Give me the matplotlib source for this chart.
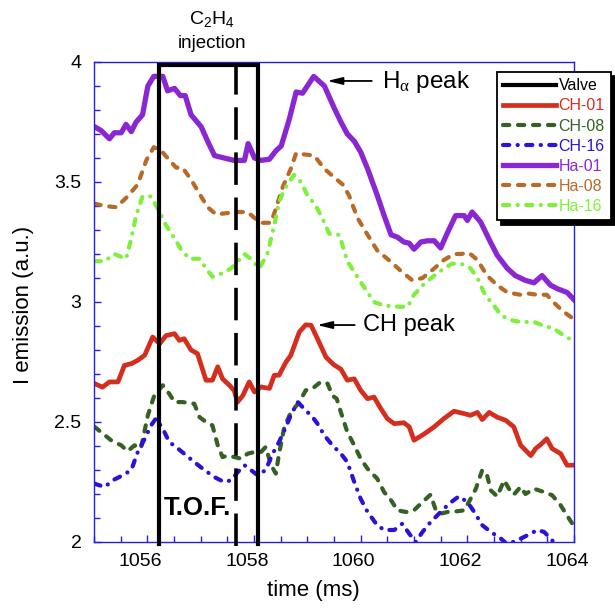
import matplotlib
matplotlib.use("Agg")
import matplotlib.pyplot as plt
import matplotlib.transforms as mtransforms
from matplotlib.ticker import MultipleLocator, FormatStrFormatter

plt.rcParams["font.family"] = ["Liberation Sans", "DejaVu Sans"]
plt.rcParams["mathtext.fontset"] = "custom"
plt.rcParams["mathtext.rm"] = "Liberation Sans"
plt.rcParams["mathtext.it"] = "Liberation Serif"
plt.rcParams["mathtext.bf"] = "Liberation Sans:bold"

# ---- data (time in ms, emission in a.u.) ----
ha01_t = [1055.01, 1055.13, 1055.29, 1055.38, 1055.51, 1055.60, 1055.70, 1055.79, 1055.91, 1056.01,
          1056.12, 1056.29, 1056.38, 1056.51, 1056.62, 1056.71, 1056.82, 1057.01, 1057.13, 1057.26,
          1057.44, 1057.63, 1057.82, 1057.89, 1058.01, 1058.13, 1058.29, 1058.41, 1058.51, 1058.66,
          1058.79, 1058.91, 1059.12, 1059.32, 1059.50, 1059.63, 1059.75, 1059.88, 1060.00, 1060.13,
          1060.31, 1060.44, 1060.57, 1060.69, 1060.81, 1060.91, 1061.00, 1061.13, 1061.25, 1061.38,
          1061.50, 1061.63, 1061.78, 1061.94, 1062.00, 1062.09, 1062.25, 1062.41, 1062.56, 1062.75,
          1062.90, 1063.09, 1063.25, 1063.40, 1063.56, 1063.69, 1063.87, 1064.00]
ha01_v = [3.73, 3.715, 3.68, 3.705, 3.705, 3.74, 3.71, 3.75, 3.78, 3.90,
          3.94, 3.94, 3.88, 3.89, 3.86, 3.86, 3.78, 3.73, 3.67, 3.61,
          3.60, 3.59, 3.59, 3.66, 3.60, 3.59, 3.595, 3.63, 3.65, 3.76,
          3.875, 3.87, 3.94, 3.90, 3.81, 3.75, 3.70, 3.67, 3.625, 3.555,
          3.445, 3.36, 3.28, 3.27, 3.25, 3.245, 3.22, 3.25, 3.255, 3.255,
          3.225, 3.29, 3.36, 3.36, 3.34, 3.375, 3.333, 3.26, 3.195, 3.14,
          3.11, 3.09, 3.08, 3.11, 3.07, 3.055, 3.04, 3.01]

ha08_t = [1055.01, 1055.20, 1055.42, 1055.63, 1055.82, 1055.98, 1056.12, 1056.26, 1056.38, 1056.54,
          1056.66, 1056.82, 1056.98, 1057.13, 1057.29, 1057.48, 1057.69, 1057.88, 1058.01, 1058.13,
          1058.32, 1058.41, 1058.54, 1058.69, 1058.79, 1058.94, 1059.13, 1059.32, 1059.50, 1059.66,
          1059.78, 1059.94, 1060.13, 1060.31, 1060.57, 1060.75, 1060.97, 1061.16, 1061.38, 1061.56,
          1061.75, 1061.88, 1062.03, 1062.19, 1062.37, 1062.56, 1062.75, 1063.00, 1063.16, 1063.31,
          1063.49, 1063.61, 1063.80, 1063.99]
ha08_v = [3.41, 3.40, 3.395, 3.44, 3.49, 3.59, 3.645, 3.63, 3.60, 3.56,
          3.56, 3.51, 3.45, 3.395, 3.365, 3.37, 3.375, 3.375, 3.35, 3.33,
          3.33, 3.39, 3.48, 3.555, 3.62, 3.615, 3.61, 3.555, 3.52, 3.49,
          3.445, 3.35, 3.28, 3.215, 3.167, 3.13, 3.09, 3.10, 3.14, 3.175,
          3.20, 3.20, 3.205, 3.175, 3.11, 3.07, 3.04, 3.03, 3.035, 3.03,
          3.03, 3.0, 2.96, 2.93]

ha16_t = [1055.01, 1055.20, 1055.38, 1055.60, 1055.70, 1055.79, 1055.91, 1056.07, 1056.23, 1056.35,
          1056.51, 1056.63, 1056.79, 1056.98, 1057.10, 1057.22, 1057.41, 1057.57, 1057.69, 1057.82,
          1057.94, 1058.10, 1058.25, 1058.38, 1058.47, 1058.57, 1058.75, 1058.88, 1059.00, 1059.16,
          1059.28, 1059.41, 1059.50, 1059.60, 1059.75, 1059.88, 1060.00, 1060.13, 1060.25, 1060.44,
          1060.75, 1060.88, 1061.00, 1061.19, 1061.38, 1061.56, 1061.72, 1061.88, 1062.06, 1062.19,
          1062.31, 1062.44, 1062.50, 1062.63, 1062.81, 1063.00, 1063.25, 1063.44, 1063.62, 1063.81,
          1063.97]
ha16_v = [3.17, 3.17, 3.20, 3.18, 3.265, 3.36, 3.44, 3.44, 3.375, 3.32,
          3.265, 3.22, 3.18, 3.18, 3.14, 3.105, 3.12, 3.14, 3.167, 3.20,
          3.18, 3.14, 3.20, 3.32, 3.417, 3.47, 3.53, 3.50, 3.445, 3.40,
          3.35, 3.285, 3.28, 3.28, 3.17, 3.125, 3.083, 3.04, 3.00, 2.985,
          2.98, 2.98, 3.03, 3.076, 3.11, 3.14, 3.16, 3.16, 3.14, 3.10,
          3.04, 3.00, 2.985, 2.945, 2.925, 2.917, 2.917, 2.90, 2.89, 2.86,
          2.84]

ch01_t = [1055.01, 1055.16, 1055.29, 1055.45, 1055.57, 1055.70, 1055.82, 1055.95, 1056.10, 1056.23,
          1056.35, 1056.51, 1056.60, 1056.69, 1056.82, 1056.94, 1057.10, 1057.22, 1057.32, 1057.41,
          1057.54, 1057.63, 1057.69, 1057.79, 1057.91, 1058.01, 1058.13, 1058.29, 1058.38, 1058.47,
          1058.60, 1058.69, 1058.85, 1058.97, 1059.07, 1059.19, 1059.35, 1059.50, 1059.63, 1059.75,
          1059.88, 1060.00, 1060.13, 1060.25, 1060.38, 1060.50, 1060.63, 1060.81, 1060.91, 1061.00,
          1061.19, 1061.38, 1061.56, 1061.75, 1061.94, 1062.06, 1062.19, 1062.28, 1062.41, 1062.56,
          1062.72, 1062.87, 1063.00, 1063.19, 1063.28, 1063.37, 1063.49, 1063.59, 1063.75, 1063.87,
          1064.00]
ch01_v = [2.66, 2.645, 2.667, 2.667, 2.736, 2.743, 2.757, 2.778, 2.854, 2.826,
          2.86, 2.868, 2.84, 2.847, 2.80, 2.785, 2.674, 2.674, 2.73, 2.68,
          2.653, 2.63, 2.583, 2.61, 2.667, 2.625, 2.646, 2.64, 2.695, 2.695,
          2.75, 2.778, 2.875, 2.905, 2.903, 2.847, 2.77, 2.738, 2.72, 2.674,
          2.68, 2.632, 2.597, 2.604, 2.555, 2.514, 2.493, 2.497, 2.48, 2.424,
          2.45, 2.48, 2.514, 2.545, 2.535, 2.528, 2.54, 2.51, 2.54, 2.52,
          2.507, 2.48, 2.403, 2.36, 2.389, 2.405, 2.43, 2.389, 2.368, 2.32,
          2.32]

ch08_t = [1055.01, 1055.13, 1055.32, 1055.51, 1055.63, 1055.76, 1055.88, 1056.01, 1056.13, 1056.29,
          1056.41, 1056.51, 1056.66, 1056.88, 1056.98, 1057.10, 1057.22, 1057.32, 1057.41, 1057.51,
          1057.63, 1057.76, 1057.88, 1058.01, 1058.13, 1058.22, 1058.32, 1058.41, 1058.47, 1058.57,
          1058.69, 1058.85, 1058.97, 1059.10, 1059.25, 1059.38, 1059.47, 1059.55, 1059.63, 1059.75,
          1059.88, 1060.00, 1060.13, 1060.31, 1060.44, 1060.57, 1060.69, 1060.85, 1061.00, 1061.16,
          1061.31, 1061.41, 1061.50, 1061.63, 1061.81, 1061.94, 1062.03, 1062.16, 1062.28, 1062.37,
          1062.44, 1062.56, 1062.69, 1062.78, 1062.87, 1063.00, 1063.09, 1063.25, 1063.44, 1063.59,
          1063.75, 1063.87, 1063.97]
ch08_v = [2.48, 2.458, 2.424, 2.403, 2.378, 2.403, 2.39, 2.528, 2.61, 2.653,
          2.618, 2.583, 2.583, 2.576, 2.52, 2.50, 2.486, 2.403, 2.354, 2.36,
          2.354, 2.347, 2.368, 2.375, 2.375, 2.396, 2.32, 2.285, 2.368, 2.48,
          2.54, 2.583, 2.632, 2.64, 2.667, 2.66, 2.61, 2.597, 2.54, 2.458,
          2.403, 2.347, 2.305, 2.264, 2.208, 2.174, 2.132, 2.125, 2.132, 2.167,
          2.197, 2.132, 2.118, 2.125, 2.128, 2.132, 2.167, 2.222, 2.30, 2.278,
          2.215, 2.19, 2.257, 2.222, 2.197, 2.23, 2.20, 2.222, 2.208, 2.195,
          2.153, 2.11, 2.076]

ch16_t = [1055.01, 1055.20, 1055.35, 1055.54, 1055.70, 1055.82, 1055.95, 1056.07, 1056.16, 1056.29,
          1056.41, 1056.57, 1056.69, 1056.88, 1057.07, 1057.26, 1057.44, 1057.57, 1057.69, 1057.82,
          1057.94, 1058.07, 1058.22, 1058.35, 1058.47, 1058.60, 1058.69, 1058.82, 1058.94, 1059.10,
          1059.19, 1059.32, 1059.47, 1059.63, 1059.75, 1059.88, 1060.00, 1060.13, 1060.31, 1060.44,
          1060.63, 1060.78, 1060.91, 1061.03, 1061.16, 1061.31, 1061.50, 1061.66, 1061.84, 1062.00,
          1062.13, 1062.28, 1062.44, 1062.63, 1062.75, 1063.00, 1063.19, 1063.31, 1063.44, 1063.56,
          1063.66, 1063.80]
ch16_v = [2.243, 2.229, 2.257, 2.278, 2.30, 2.375, 2.43, 2.486, 2.514, 2.472,
          2.417, 2.39, 2.368, 2.333, 2.30, 2.27, 2.25, 2.257, 2.29, 2.32,
          2.30, 2.278, 2.30, 2.368, 2.417, 2.48, 2.528, 2.583, 2.555, 2.52,
          2.493, 2.444, 2.403, 2.368, 2.333, 2.25, 2.18, 2.125, 2.07, 2.05,
          2.05, 2.076, 2.035, 2.0, 2.042, 2.083, 2.125, 2.16, 2.19, 2.167,
          2.125, 2.07, 2.042, 2.014, 1.99, 2.014, 2.035, 2.05, 2.042, 2.014,
          1.99, 1.96]

valve_open = 1056.22
valve_close = 1058.08
tof_mark = 1057.66
valve_level = 3.986

COLOR_VALVE = "black"
COLOR_CH01 = "#d42e1e"
COLOR_CH08 = "#356224"
COLOR_CH16 = "#2c12d6"
COLOR_HA01 = "#8a26d2"
COLOR_HA08 = "#b86a28"
COLOR_HA16 = "#7ef03c"
COLOR_AXES = "#2a1ed8"

# round-capped dashes, lengths in units of line width
DASH = (0, (1.5, 2.1))
DASHDOT = (0, (1.5, 2.0, 0.05, 2.0))

fig = plt.figure(figsize=(6.15, 6.09), dpi=100)
ax = fig.add_axes([94 / 615, 1 - 542 / 609, 480 / 615, 480 / 609])

ax.plot([valve_open, valve_open, valve_close, valve_close], [1.99, valve_level, valve_level, 1.99],
        color=COLOR_VALVE, lw=3.0, label="Valve", clip_on=False, zorder=5, solid_joinstyle="miter")
ax.plot([tof_mark, tof_mark], [1.985, valve_level], color=COLOR_VALVE, lw=2.6,
        linestyle=(0, (9, 3.5)), clip_on=False, zorder=5)

ax.plot(ch01_t, ch01_v, color=COLOR_CH01, lw=3.4, label="CH-01", solid_joinstyle="round")
ax.plot(ch08_t, ch08_v, color=COLOR_CH08, lw=3.0, linestyle=DASH, dash_capstyle="round", label="CH-08")
ax.plot(ch16_t, ch16_v, color=COLOR_CH16, lw=3.0, linestyle=DASHDOT, dash_capstyle="round", label="CH-16")
ax.plot(ha01_t, ha01_v, color=COLOR_HA01, lw=3.8, label="Ha-01", solid_joinstyle="round")
ax.plot(ha08_t, ha08_v, color=COLOR_HA08, lw=3.0, linestyle=DASH, dash_capstyle="round", label="Ha-08")
ax.plot(ha16_t, ha16_v, color=COLOR_HA16, lw=3.0, linestyle=DASHDOT, dash_capstyle="round", label="Ha-16")

ax.set_xlim(1055, 1064)
ax.set_ylim(2, 4)
ax.xaxis.set_major_locator(MultipleLocator(2))
ax.xaxis.set_minor_locator(MultipleLocator(0.5))
ax.yaxis.set_major_locator(MultipleLocator(0.5))
ax.yaxis.set_minor_locator(MultipleLocator(0.1))
ax.yaxis.set_major_formatter(FormatStrFormatter("%g"))

for side in ax.spines.values():
    side.set_color(COLOR_AXES)
    side.set_linewidth(1.0)
ax.tick_params(which="both", direction="in", colors=COLOR_AXES, labelcolor="black",
               top=False, right=False, width=1.0)
ax.tick_params(which="major", length=5, labelsize=14)
ax.tick_params(which="minor", length=4.5)
ax.tick_params(axis="x", pad=8)
ax.tick_params(axis="y", pad=9)

# the original tick labels sit a little left of their ticks
shift = mtransforms.ScaledTranslation(-0.07, 0, fig.dpi_scale_trans)
for lab in ax.get_xticklabels():
    lab.set_transform(lab.get_transform() + shift)

ax.set_xlabel("time (ms)", fontsize=16)
ax.xaxis.set_label_coords(0.456, -0.079)
ax.set_ylabel("I emission (a.u.)", fontsize=16)
ax.yaxis.set_label_coords(-0.125, 0.494)

ax.annotate("", xy=(1059.32, 3.921), xytext=(1060.26, 3.921),
            arrowprops=dict(arrowstyle="-|>,head_length=0.9,head_width=0.22", color="black", lw=1.3))
ax.text(1060.40, 3.892, r"H$_{\alpha}$ peak", fontsize=17.5, ha="left", va="baseline")

ax.annotate("", xy=(1059.13, 2.904), xytext=(1059.94, 2.904),
            arrowprops=dict(arrowstyle="-|>,head_length=0.9,head_width=0.22", color="black", lw=1.3))
ax.text(1060.05, 2.879, "CH peak", fontsize=17, ha="left", va="baseline")

ax.text(1056.30, 2.1125, "T.O.F.", fontsize=18.5, fontweight="bold", ha="left", va="baseline")

fig.text(212 / 615, 1 - 19 / 609, r"$\mathrm{C_2H_4}$", fontsize=14, ha="center", va="center")
fig.text(212 / 615, 1 - 44 / 609, "injection", fontsize=13.5, ha="center", va="center")

leg = ax.legend(loc="upper left", bbox_to_anchor=(497 / 615, 1 - 72 / 609),
                bbox_transform=fig.transFigure, fontsize=11.5, handlelength=3.3,
                handletextpad=0.15, labelspacing=0.32, borderpad=0.4, borderaxespad=0,
                fancybox=False, framealpha=1, edgecolor="black",
                shadow={"color": "black", "alpha": 1, "ox": 3, "oy": -3})
leg.get_frame().set_linewidth(1.3)
leg.set_zorder(10)
for txt, ln in zip(leg.get_texts(), leg.get_lines()):
    txt.set_color(ln.get_color())

fig.savefig("out.png", dpi=100)
